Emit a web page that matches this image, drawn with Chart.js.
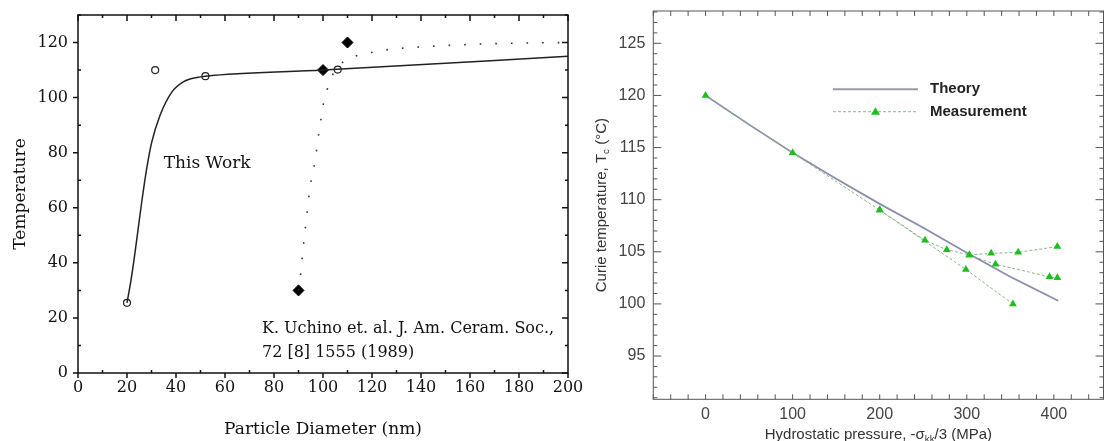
<!DOCTYPE html>
<html>
<head>
<meta charset="utf-8">
<script src="https://cdn.jsdelivr.net/npm/chart.js@4.4.1/dist/chart.umd.min.js"></script>
<style>
  body { margin: 0; background: #fff; }
  canvas { position: absolute; top: 0; }
</style>
</head>
<body>
<canvas id="sizeChart" width="600" height="441" style="left:0"></canvas>
<canvas id="pressureChart" width="533" height="441" style="left:575px"></canvas>
<script>
// ---- left panel: transition temperature vs particle diameter ----
const sizeXTicks = [0, 20, 40, 60, 80, 100, 120, 140, 160, 180, 200];
const sizeYTicks = [0, 20, 40, 60, 80, 100, 120];
const thisWorkPoints = [[20, 25.5], [31.5, 110], [52, 107.8], [106, 110.2]];
const thisWorkCurve = [[20, 25.5], [21.5, 33], [23, 42], [24.5, 52], [26, 62], [28, 74], [30, 83.5], [33.5, 93.6],
  [38.3, 102], [43, 105.7], [48.5, 107.3], [52, 107.8], [100, 110], [200, 115]];
const uchinoPoints = [[90, 30], [100, 110], [110, 120]];
const uchinoCurve = [[90, 30], [90.7, 34.4], [91.9, 45.3], [93.3, 56.7], [94.8, 68], [96.1, 73.7], [97.1, 79.1],
  [97.9, 84.8], [98.9, 90.4], [99.8, 96.1], [101.3, 101.7], [103.4, 107.3], [108, 112.8], [114.5, 115.4],
  [120.9, 116.6], [127.2, 117.5], [140, 118.4], [160, 119.3], [180, 119.8], [200, 120]];

// ---- right panel: Curie temperature vs hydrostatic pressure ----
const pressureXTicks = [0, 100, 200, 300, 400];
const pressureYTicks = [95, 100, 105, 110, 115, 120, 125];
const theoryCurve = [[0, 120], [50, 117.2], [100, 114.5], [150, 112], [200, 109.6], [250, 107.3], [300, 104.9],
  [350, 102.6], [405, 100.3]];
const measuredMain = [[0, 120], [100, 114.5], [200, 109], [252, 106.1], [277, 105.2], [303, 104.7], [328, 104.85],
  [359, 104.95], [404, 105.5]];
const measuredBranch = [[303, 104.7], [333, 103.8], [395, 102.6], [404, 102.5]];
const measuredDrop = [[200, 109], [299, 103.3], [353, 100]];

const xy = pts => pts.map(p => ({ x: p[0], y: p[1] }));
const useTicks = list => scale => { scale.ticks = list.map(v => ({ value: v })); };

// frame + inward/outward tick marks drawn from the scales
function tickFrame(opts) {
  return {
    id: 'tickFrame',
    afterDatasetsDraw(chart) {
      const { ctx, chartArea: a, scales: { x, y } } = chart;
      const isOn = (v, s) => s && Math.abs(v / s - Math.round(v / s)) < 1e-6;
      ctx.save();
      ctx.strokeStyle = opts.color;
      ctx.lineWidth = opts.lineWidth;
      ctx.strokeRect(a.left, a.top, a.right - a.left, a.bottom - a.top);
      ctx.beginPath();
      for (const m of opts.x) {
        for (let v = Math.ceil(x.min / m.step) * m.step; v <= x.max + 1e-6; v += m.step) {
          if (isOn(v, m.skip)) continue;
          const px = x.getPixelForValue(v);
          ctx.moveTo(px, a.bottom); ctx.lineTo(px, a.bottom - m.bottom);
          ctx.moveTo(px, a.top); ctx.lineTo(px, a.top + m.top);
        }
      }
      for (const m of opts.y) {
        for (let v = Math.ceil(y.min / m.step) * m.step; v <= y.max + 1e-6; v += m.step) {
          if (isOn(v, m.skip)) continue;
          const py = y.getPixelForValue(v);
          ctx.moveTo(a.left, py); ctx.lineTo(a.left + m.left, py);
          ctx.moveTo(a.right, py); ctx.lineTo(a.right - m.right, py);
        }
      }
      ctx.stroke();
      ctx.restore();
    }
  };
}

const serif = '"DejaVu Serif", serif';
const sans = '"Liberation Sans", Arial, sans-serif';

const sizeNotes = {
  id: 'sizeNotes',
  afterDraw(chart) {
    const { ctx, scales: { x, y } } = chart;
    ctx.save();
    ctx.fillStyle = '#111';
    ctx.textBaseline = 'middle';
    ctx.font = '17px ' + serif;
    ctx.fillText('This Work', x.getPixelForValue(35), y.getPixelForValue(76));
    ctx.font = '16px ' + serif;
    ctx.fillText('K. Uchino et. al. J. Am. Ceram. Soc.,', x.getPixelForValue(75.1), y.getPixelForValue(16));
    ctx.fillText('72 [8] 1555 (1989)', x.getPixelForValue(75.1), y.getPixelForValue(7.5));
    ctx.restore();
  }
};

new Chart(document.getElementById('sizeChart'), {
  type: 'scatter',
  data: {
    datasets: [
      { data: xy(thisWorkCurve), showLine: true, borderColor: '#222', borderWidth: 1.5,
        pointRadius: 0, cubicInterpolationMode: 'monotone' },
      { data: xy(uchinoCurve), showLine: true, borderColor: '#333', borderWidth: 1.6,
        borderDash: [1.6, 14], pointRadius: 0, cubicInterpolationMode: 'monotone' },
      { data: xy(thisWorkPoints), pointStyle: 'circle', pointRadius: 3.5,
        pointBackgroundColor: '#fff', pointBorderColor: '#222', pointBorderWidth: 1.2 },
      { data: xy(uchinoPoints), pointStyle: 'rectRot', pointRadius: 5.5,
        pointBackgroundColor: '#000', pointBorderColor: '#000' }
    ]
  },
  options: {
    responsive: false,
    animation: false,
    layout: { padding: { left: 0, top: 15, right: 32, bottom: 0 } },
    plugins: { legend: { display: false }, tooltip: { enabled: false } },
    scales: {
      x: {
        type: 'linear', min: 0, max: 200,
        afterBuildTicks: useTicks(sizeXTicks),
        afterFit(s) { s.height = 68; s.paddingLeft = 0; s.paddingRight = 0; },
        grid: { display: false, drawTicks: false },
        border: { display: false },
        ticks: { color: '#111', font: { family: serif, size: 16 }, padding: 5, maxRotation: 0 },
        title: { display: true, text: 'Particle Diameter (nm)', color: '#111',
          font: { family: serif, size: 17 }, padding: { top: 0, bottom: 1 } }
      },
      y: {
        type: 'linear', min: 0, max: 130,
        afterBuildTicks: useTicks(sizeYTicks),
        afterFit(s) { s.width = 78; s.paddingTop = 0; s.paddingBottom = 0; },
        grid: { display: false, drawTicks: false },
        border: { display: false },
        ticks: { color: '#111', font: { family: serif, size: 16 }, padding: 10 },
        title: { display: true, text: 'Temperature', color: '#111',
          font: { family: serif, size: 17 }, padding: { top: 10, bottom: 0 } }
      }
    }
  },
  plugins: [
    tickFrame({ color: '#111', lineWidth: 1.5,
      x: [{ step: 10, skip: 20, bottom: 3, top: 3 }, { step: 20, bottom: -5, top: 6 }],
      y: [{ step: 10, skip: 20, left: 3, right: 3 }, { step: 20, left: -5, right: 6 }] }),
    sizeNotes
  ]
});

// text with subscripts, drawn centred at (cx, cy)
function richText(ctx, parts, cx, cy, size) {
  const widths = parts.map(p => {
    ctx.font = (p.sub ? size * 0.65 : size) + 'px ' + sans;
    return ctx.measureText(p.t).width;
  });
  let cur = cx - widths.reduce((s, w) => s + w, 0) / 2;
  parts.forEach((p, i) => {
    ctx.font = (p.sub ? size * 0.65 : size) + 'px ' + sans;
    ctx.fillText(p.t, cur, cy + (p.sub ? size * 0.28 : 0));
    cur += widths[i];
  });
}

const pressureExtras = {
  id: 'pressureExtras',
  afterDraw(chart) {
    const { ctx, chartArea: a } = chart;
    ctx.save();
    ctx.fillStyle = '#333';
    ctx.textBaseline = 'middle';
    ctx.textAlign = 'left';
    richText(ctx, [{ t: 'Hydrostatic pressure, -σ' }, { t: 'kk', sub: true }, { t: '/3 (MPa)' }],
      (a.left + a.right) / 2, 435, 15);
    ctx.save();
    ctx.translate(27, (a.top + a.bottom) / 2);
    ctx.rotate(-Math.PI / 2);
    richText(ctx, [{ t: 'Curie temperature, T' }, { t: 'c', sub: true }, { t: ' (°C)' }], 0, 0, 15);
    ctx.restore();

    // legend
    const lx = 258, lw = 85;
    ctx.strokeStyle = '#9a9aa6';
    ctx.lineWidth = 2;
    ctx.beginPath(); ctx.moveTo(lx, 89.3); ctx.lineTo(lx + lw, 89.3); ctx.stroke();
    ctx.strokeStyle = '#7cc47c';
    ctx.lineWidth = 1;
    ctx.setLineDash([3, 2]);
    ctx.beginPath(); ctx.moveTo(lx, 111.7); ctx.lineTo(lx + lw, 111.7); ctx.stroke();
    ctx.setLineDash([]);
    ctx.fillStyle = '#1cbf1c';
    const tx = lx + lw / 2, ty = 111.7, r = 4.5;
    ctx.beginPath();
    ctx.moveTo(tx, ty - r); ctx.lineTo(tx + r, ty + r * 0.7); ctx.lineTo(tx - r, ty + r * 0.7);
    ctx.closePath(); ctx.fill();
    ctx.fillStyle = '#222';
    ctx.font = 'bold 15px ' + sans;
    ctx.fillText('Theory', 355, 89.3);
    ctx.fillText('Measurement', 355, 111.7);
    ctx.restore();
  }
};

const measuredStyle = {
  showLine: true, borderColor: '#86b886', borderWidth: 1, borderDash: [3, 2],
  pointStyle: 'triangle', pointRadius: 4.5, pointBackgroundColor: '#1cbf1c', pointBorderColor: '#1cbf1c',
  pointBorderWidth: 0
};

new Chart(document.getElementById('pressureChart'), {
  type: 'scatter',
  data: {
    datasets: [
      Object.assign({ label: 'Measurement', data: xy(measuredMain) }, measuredStyle),
      Object.assign({ label: 'Measurement', data: xy(measuredBranch) }, measuredStyle),
      Object.assign({ label: 'Measurement', data: xy(measuredDrop) }, measuredStyle),
      { label: 'Theory', data: xy(theoryCurve), showLine: true, borderColor: '#8c8cae', borderWidth: 1.8,
        pointRadius: 0 }
    ]
  },
  options: {
    responsive: false,
    animation: false,
    layout: { padding: { left: 0, top: 11, right: 1.5, bottom: 0 } },
    plugins: { legend: { display: false }, tooltip: { enabled: false } },
    scales: {
      x: {
        type: 'linear', min: -60, max: 457,
        afterBuildTicks: useTicks(pressureXTicks),
        afterFit(s) { s.height = 41.7; s.paddingLeft = 0; s.paddingRight = 0; },
        grid: { display: false, drawTicks: false },
        border: { display: false },
        ticks: { color: '#444', font: { family: sans, size: 16 }, padding: 6, maxRotation: 0 }
      },
      y: {
        type: 'linear', min: 90.85, max: 128.1,
        afterBuildTicks: useTicks(pressureYTicks),
        afterFit(s) { s.width = 78.3; s.paddingTop = 0; s.paddingBottom = 0; },
        grid: { display: false, drawTicks: false },
        border: { display: false },
        ticks: { color: '#444', font: { family: sans, size: 16 }, padding: 8 }
      }
    }
  },
  plugins: [
    tickFrame({ color: '#555', lineWidth: 1,
      x: [{ step: 20, bottom: 5, top: 5 }],
      y: [{ step: 1, skip: 5, left: 4, right: 4 }, { step: 5, left: 8, right: 8 }] }),
    pressureExtras
  ]
});
</script>
</body>
</html>
